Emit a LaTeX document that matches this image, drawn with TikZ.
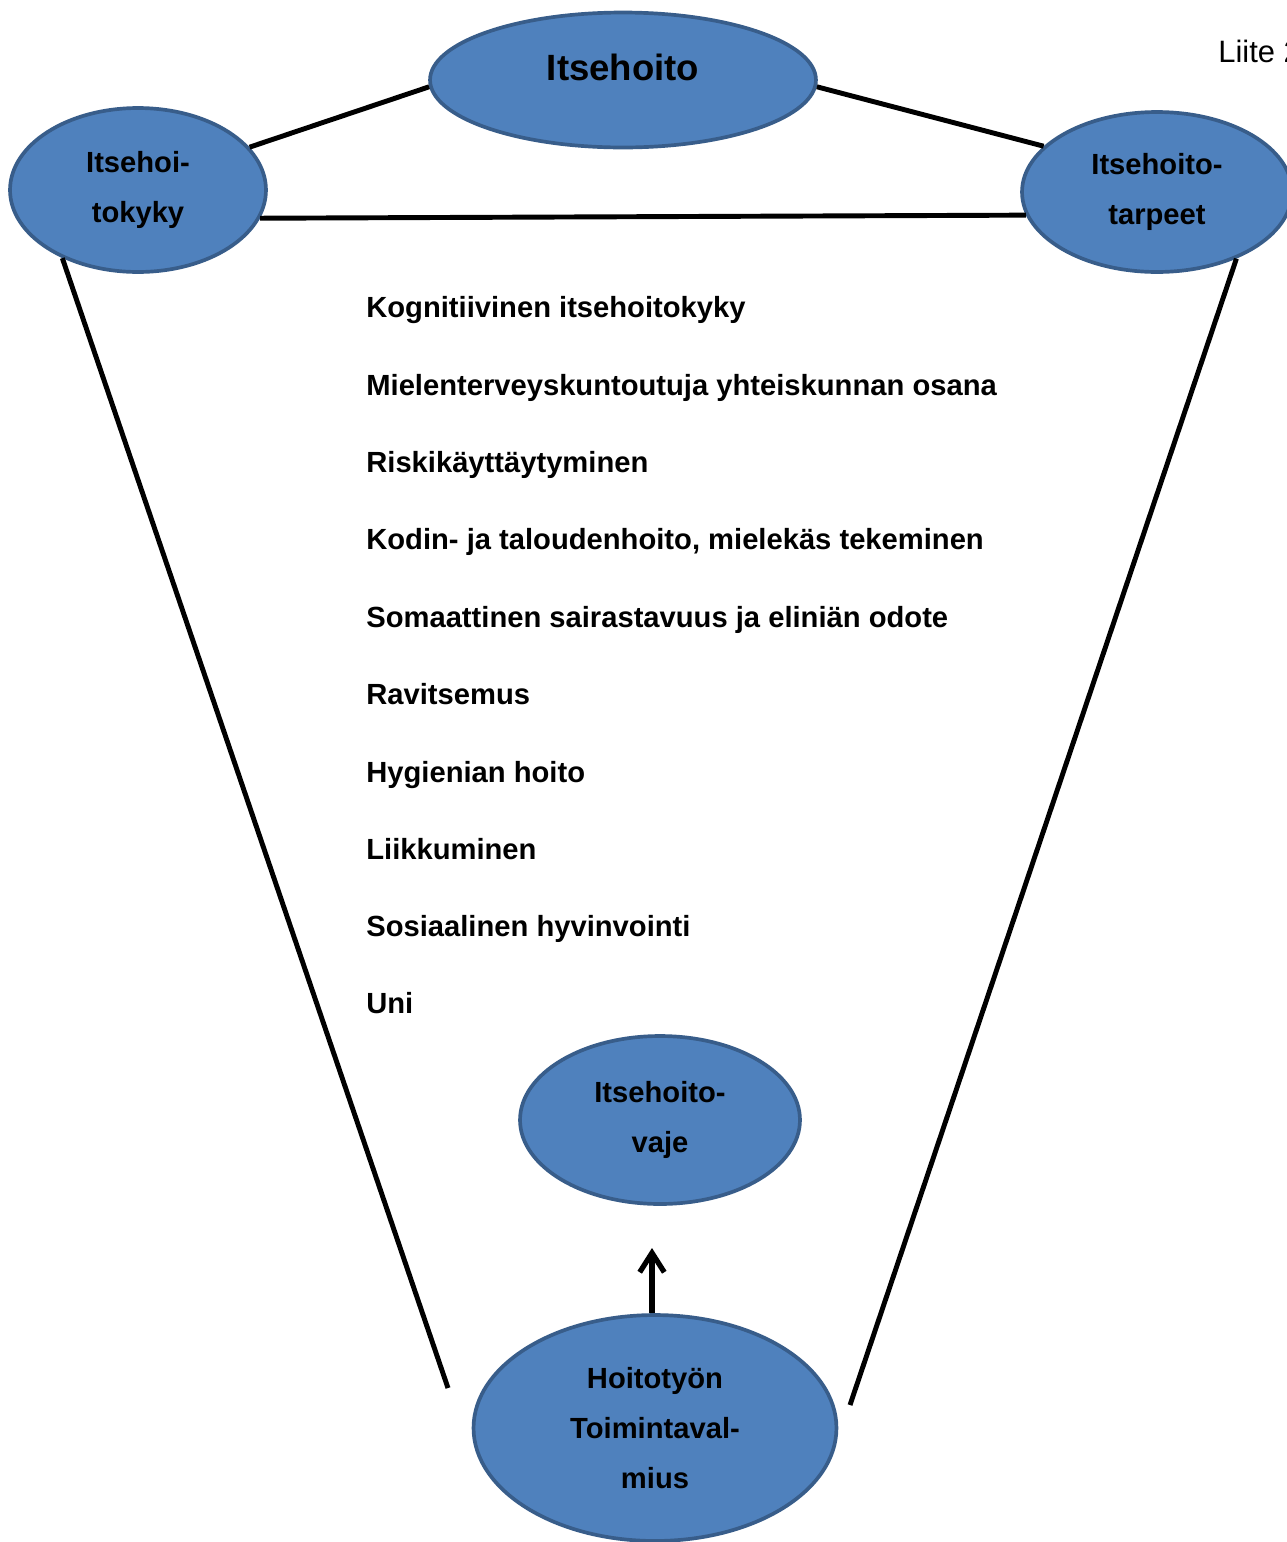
\documentclass[tikz,border=0pt]{standalone}
\usepackage{fontspec}
\setmainfont{Liberation Sans}
\usetikzlibrary{shapes.geometric,arrows.meta}
\definecolor{ovalfill}{HTML}{4F81BD}
\definecolor{ovalline}{HTML}{385D8A}
\tikzset{
  oval/.style={ellipse, fill=ovalfill, draw=ovalline, line width=2.1pt, inner sep=0pt,
    align=center, font=\fontsize{16.6}{28.35}\selectfont\bfseries},
  conn/.style={line width=2.8pt, black},
  item/.style={anchor=base west, inner sep=0pt, font=\fontsize{16.6}{20}\selectfont\bfseries},
  uparrow/.style={line width=3pt, -{Straight Barb[length=11pt,width=14pt,line width=3pt]}}
}
\begin{document}
\begin{tikzpicture}[x=0.02cm,y=-0.02cm]
\clip (0,0) rectangle (1287,1542);
\fill[white] (0,0) rectangle (1287,1542);
% ovals
\node[oval, minimum width=7.72cm, minimum height=2.70cm] (hoito) at (623,80) {};
\node[inner sep=0pt, anchor=center, font=\fontsize{20.8}{24}\selectfont\bfseries] (hoitotxt) at (623,67) {Itsehoito};
\node[oval, minimum width=5.12cm, minimum height=3.28cm] (kyky) at (138,190) {Itsehoi-\\tokyky};
\node[oval, minimum width=5.4cm, minimum height=3.2cm] (tarpeet) at (1157,192) {Itsehoito-\\tarpeet};
\node[oval, minimum width=5.6cm, minimum height=3.36cm] (vaje) at (660,1120) {Itsehoito-\\vaje};
\node[oval, minimum width=7.26cm, minimum height=4.52cm] (tt) at (655,1428) {Hoitotyön\\Toimintaval-\\mius};
% free ends
\coordinate (lend) at (448,1388);
\coordinate (rend) at (850,1405);
\coordinate (atip) at (652,1248);
% connectors
\draw[conn] (kyky.21) -- (hoito.182);
\draw[conn] (hoito.358) -- (tarpeet.158);
\draw[conn] (kyky.-13) -- (tarpeet.190);
\draw[conn] (kyky.222) -- (lend);
\draw[conn] (tarpeet.320) -- (rend);
\draw[uparrow] (tt.north -| atip) -- (atip);
% list
\node[item] (i1) at (366,317) {Kognitiivinen itsehoitokyky};
\node[item] (i2) at (366,395) {Mielenterveyskuntoutuja yhteiskunnan osana};
\node[item] (i3) at (366,472) {Riskikäyttäytyminen};
\node[item] (i4) at (366,549) {Kodin- ja taloudenhoito, mielekäs tekeminen};
\node[item] (i5) at (366,627) {Somaattinen sairastavuus ja eliniän odote};
\node[item] (i6) at (366,704) {Ravitsemus};
\node[item] (i7) at (366,782) {Hygienian hoito};
\node[item] (i8) at (366,859) {Liikkuminen};
\node[item] (i9) at (366,936) {Sosiaalinen hyvinvointi};
\node[item] (i10) at (366,1013) {Uni};
% header
\node[anchor=base west, inner sep=0pt, font=\fontsize{17.6}{20}\selectfont] (liite) at (1218,62) {Liite 2};
\end{tikzpicture}
\end{document}
